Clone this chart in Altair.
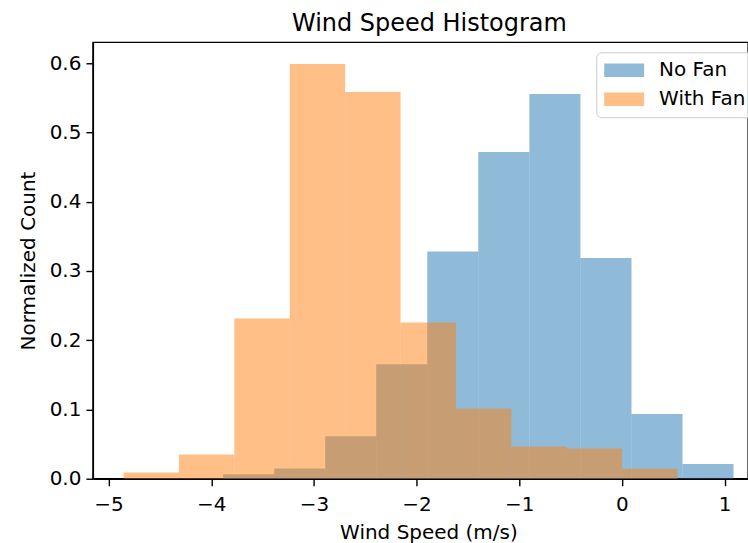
import altair as alt
import pandas as pd

# Bin edges and normalized heights
nofan_edges = [-3.884, -3.387, -2.890, -2.393, -1.896, -1.399, -0.901, -0.404, 0.093, 0.590, 1.087]
nofan_heights = [0.0063, 0.0149, 0.0615, 0.1654, 0.328, 0.4717, 0.5558, 0.3188, 0.0933, 0.0212]

withfan_edges = [-4.854, -4.314, -3.775, -3.235, -2.696, -2.156, -1.616, -1.077, -0.537, 0.002, 0.542]
withfan_heights = [0.0091, 0.0351, 0.2313, 0.599, 0.5587, 0.2255, 0.1015, 0.0466, 0.0438, 0.0144]

series_names = ["No Fan", "With Fan"]
series_colors = ["#1f77b4", "#ff7f0e"]
x_ticks = [-5, -4, -3, -2, -1, 0, 1]
y_ticks = [0.0, 0.1, 0.2, 0.3, 0.4, 0.5, 0.6]

rows = []
for name, edges, heights in [("No Fan", nofan_edges, nofan_heights),
                             ("With Fan", withfan_edges, withfan_heights)]:
    for i, h in enumerate(heights):
        rows.append({"series": name, "x0": edges[i], "x1": edges[i + 1], "h": h})
df = pd.DataFrame(rows)

FONT = "DejaVu Sans"
FS = 20

chart = alt.Chart(df).mark_rect(opacity=0.5).encode(
    x=alt.X("x0:Q",
            scale=alt.Scale(domain=[-5.153, 1.228], nice=False, zero=False),
            axis=alt.Axis(values=x_ticks, title="Wind Speed (m/s)", grid=False,
                          format="d", labelPadding=9, titlePadding=7.5, titleX=336,
                          labelExpr="replace(datum.label, '-', '\u2212')")),
    x2="x1:Q",
    y=alt.Y("h:Q",
            scale=alt.Scale(domain=[0, 0.6303], nice=False),
            axis=alt.Axis(values=y_ticks, format=".1f", title="Normalized Count", grid=False,
                          labelPadding=5, titlePadding=11)),
    y2=alt.datum(0),
    color=alt.Color("series:N",
                    scale=alt.Scale(domain=series_names, range=series_colors),
                    legend=alt.Legend(title=None, orient="none", legendX=504, legendY=10,
                                      symbolType="M-1,-0.67H3V0.67H-1Z", symbolSize=400,
                                      symbolOpacity=0.5, symbolStrokeWidth=0,
                                      labelOffset=35, rowPadding=9,
                                      labelFont=FONT, labelFontSize=FS, labelColor="black",
                                      fillColor="rgba(255,255,255,0.8)", strokeColor="#cccccc",
                                      cornerRadius=5, padding=8)),
).properties(
    width=656,
    height=437,
    title=alt.TitleParams("Wind Speed Histogram", font=FONT, fontSize=24,
                          fontWeight="normal", color="black", offset=6, dx=9),
    autosize=alt.AutoSizeParams(type="none"),
    padding={"left": 93, "top": 42, "right": 0, "bottom": 64},
).configure_view(
    stroke="black", strokeWidth=1.4
).configure_axis(
    domainColor="black", domainWidth=1.4, tickColor="black", tickWidth=1.4,
    tickSize=7, labelFont=FONT, labelFontSize=FS, labelColor="black",
    titleFont=FONT, titleFontSize=FS, titleFontWeight="normal",
    titleColor="black",
)

chart.save("out.html", embed_options={"renderer": "svg", "actions": False})
